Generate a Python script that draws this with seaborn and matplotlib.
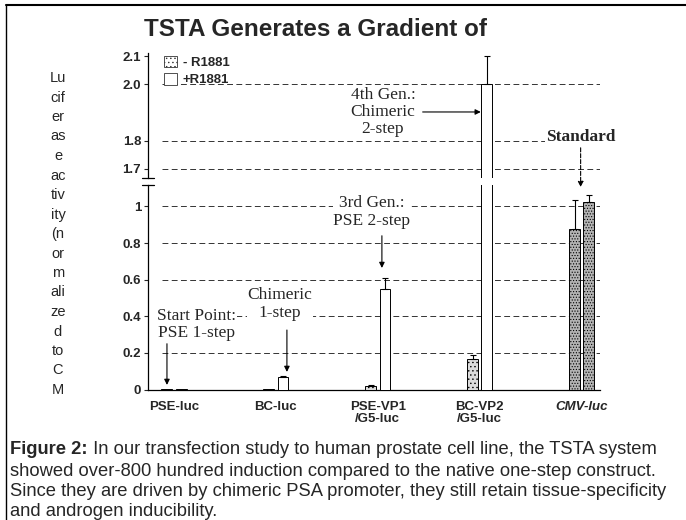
import matplotlib
matplotlib.use('Agg')
import matplotlib.pyplot as plt
import seaborn as sns
import pandas as pd
from matplotlib.patches import Patch
from matplotlib.lines import Line2D

# values (luciferase activity normalized to CMV)
constructs = ['PSE-luc', 'BC-luc', 'PSE-VP1\n/G5-luc', 'BC-VP2\n/G5-luc', 'CMV-luc']
treatments = ['- R1881', '+R1881']
minus_r1881 = [0.003, 0.002, 0.02, 0.165, 0.875]
plus_r1881 = [0.003, 0.068, 0.55, 2.0, 1.025]
minus_err = [0.0, 0.0, 0.006, 0.022, 0.16]
plus_err = [0.0, 0.004, 0.058, 0.1, 0.035]

lower_ticks = [0, 0.2, 0.4, 0.6, 0.8, 1.0]
lower_labels = ['0', '0.2', '0.4', '0.6', '0.8', '1']
upper_ticks = [1.7, 1.8, 2.0, 2.1]
upper_labels = ['1.7', '1.8', '2.0', '2.1']

ylabel = 'Lu\ncif\ner\nas\ne\nac\ntiv\nity\n(n\nor\nm\nali\nze\nd\nto\nC\nM'
caption = ['showed over-800 hundred induction compared to the native one-step construct.',
           'Since they are driven by chimeric PSA promoter, they still retain tissue-specificity',
           'and androgen inducibility.']

df = pd.DataFrame({
    'construct': constructs * 2,
    'treatment': [treatments[0]] * 5 + [treatments[1]] * 5,
    'activity': minus_r1881 + plus_r1881,
})

sns.set_style('white')
plt.rcParams['font.family'] = ['Liberation Sans', 'DejaVu Sans']
plt.rcParams['hatch.linewidth'] = 0.5

W, H = 686, 520
fig = plt.figure(figsize=(W / 100, H / 100), dpi=100)
ax_lo = fig.add_axes([148 / W, 1 - 389.5 / H, 452 / W, (389.5 - 184.7) / H])
ax_hi = fig.add_axes([148 / W, 1 - 178 / H, 452 / W, (178 - 53) / H])

palette = {treatments[0]: '#dcdcdc', treatments[1]: 'white'}
for ax in (ax_lo, ax_hi):
    sns.barplot(data=df, x='construct', y='activity', hue='treatment', palette=palette,
                width=0.28, gap=0.24, edgecolor='black', linewidth=0.7,
                errorbar=None, legend=False, ax=ax, zorder=3)
    bars = list(ax.containers[:2])
    for b in bars[0]:
        b.set_hatch('....')
    for cont in bars:
        cont[4].set_facecolor('#b4b4b4')
        cont[4].set_hatch('......')
    for cont, errs in zip(bars, (minus_err, plus_err)):
        xs = [b.get_x() + b.get_width() / 2 for b, e in zip(cont, errs) if e > 0]
        hs = [b.get_height() for b, e in zip(cont, errs) if e > 0]
        es = [e for e in errs if e > 0]
        ax.errorbar(xs, hs, yerr=[[0] * len(es), es], fmt='none', ecolor='black',
                    elinewidth=0.8, capsize=2.5, capthick=0.8, zorder=4)
    ax.set_xlim(-0.255, 4.18)
    ax.set_xlabel('')
    ax.set_ylabel('')
    ax.tick_params(axis='y', labelsize=9.5, length=3, width=0.8, pad=2, left=True)
    for s in ax.spines.values():
        s.set_color('black')
        s.set_linewidth(0.9)

ax_lo.set_ylim(0, 1.119)
ax_lo.set_yticks(lower_ticks, labels=lower_labels)
ax_hi.set_ylim(1.668, 2.111)
ax_hi.set_yticks(upper_ticks, labels=upper_labels)
sns.despine(ax=ax_lo)
sns.despine(ax=ax_hi, bottom=True)
ax_hi.tick_params(axis='x', bottom=False, labelbottom=False)
ax_lo.tick_params(axis='x', length=0, pad=8.5, labelsize=9.5)
for lbl in ax_lo.get_xticklabels():
    lbl.set_fontweight('bold')
    lbl.set_linespacing(1.0)
ax_lo.get_xticklabels()[4].set_fontstyle('italic')
for ax in (ax_lo, ax_hi):
    for lbl in ax.get_yticklabels():
        lbl.set_fontweight('bold')

# dashed reference lines
for y in lower_ticks[1:]:
    ax_lo.axhline(y, xmin=0.03, xmax=1.0, ls=(0, (6, 3.5)), color='#333333', lw=0.7, zorder=1)
for y in upper_ticks[:3]:
    ax_hi.axhline(y, xmin=0.03, xmax=1.0, ls=(0, (6, 3.5)), color='#333333', lw=0.7, zorder=1)

# axis break marks
ax_hi.plot([-0.014, 0.014], [0, 0], transform=ax_hi.transAxes, color='k', lw=0.9, clip_on=False)
ax_lo.plot([-0.014, 0.014], [1, 1], transform=ax_lo.transAxes, color='k', lw=0.9, clip_on=False)

serif = ['Liberation Serif', 'DejaVu Serif']
box = dict(fc='white', ec='none', pad=0.5)
arrow = dict(arrowstyle='-|>', color='black', lw=0.8, mutation_scale=8, shrinkA=0, shrinkB=0)
note = dict(ha='center', va='center', family=serif, fontsize=12.5, linespacing=1.1,
            bbox=box, zorder=5)

ax_lo.text(0.225, 0.355, 'Start Point:\nPSE 1-step', **note)
ax_lo.annotate('', xy=(-0.069, 0.025), xytext=(-0.069, 0.25), arrowprops=arrow)
ax_lo.text(1.04, 0.467, 'Chimeric\n1-step', **note)
ax_lo.annotate('', xy=(1.108, 0.096), xytext=(1.108, 0.325), arrowprops=arrow)
ax_lo.text(1.94, 0.97, '3rd Gen.:\nPSE 2-step', **note)
ax_lo.annotate('', xy=(2.04, 0.664), xytext=(2.04, 0.84), arrowprops=arrow)

ax_hi.text(2.05, 1.902, '4th Gen.:\nChimeric\n2-step', **note)
ax_hi.annotate('', xy=(3.01, 1.902), xytext=(2.44, 1.902), arrowprops=arrow)
ax_hi.text(3.99, 1.813, 'Standard', ha='center', va='center', family=serif, fontsize=12.5,
           fontweight='bold', bbox=box, zorder=5, clip_on=False)
ax_hi.annotate('', xy=(3.99, 1.636), xytext=(3.99, 1.775), annotation_clip=False,
               arrowprops=dict(arrow, ls='--'))

handles = [Patch(fc='white', ec='#333333', lw=0.6, hatch='....', label=treatments[0]),
           Patch(fc='white', ec='#333333', lw=0.6, label=treatments[1])]
ax_hi.legend(handles=handles, loc='upper left', bbox_to_anchor=(0.03, 1.0), frameon=False,
             prop={'weight': 'bold', 'size': 9.5}, handlelength=1.0, handleheight=1.0,
             handletextpad=0.4, labelspacing=0.3, borderaxespad=0, borderpad=0.2)

fig.text(315 / W, 1 - 30 / H, 'TSTA Generates a Gradient of', ha='center', va='center',
         fontsize=17.5, fontweight='bold')
fig.text(58 / W, 1 - 234 / H, ylabel, ha='center', va='center', fontsize=10.5,
         linespacing=1.5, multialignment='center')

# caption, first words in bold
cap_y = [450, 471, 492, 511]
t = fig.text(10 / W, 1 - cap_y[0] / H, 'Figure 2:', ha='left', va='center', fontsize=13.2,
             fontweight='bold')
fig.canvas.draw()
bb = t.get_window_extent(fig.canvas.get_renderer())
fig.text(bb.x1 / W, 1 - cap_y[0] / H,
         ' In our transfection study to human prostate cell line, the TSTA system',
         ha='left', va='center', fontsize=13.2)
for y, line in zip(cap_y[1:], caption):
    fig.text(10 / W, 1 - y / H, line, ha='left', va='center', fontsize=13.2)

# scan frame
fig.add_artist(Line2D([6 / W, 6 / W], [0, 1 - 5 / H], color='black', lw=1))
fig.add_artist(Line2D([6 / W, 1], [1 - 5 / H, 1 - 5 / H], color='black', lw=1.5))

fig.savefig('out.png', dpi=100)
